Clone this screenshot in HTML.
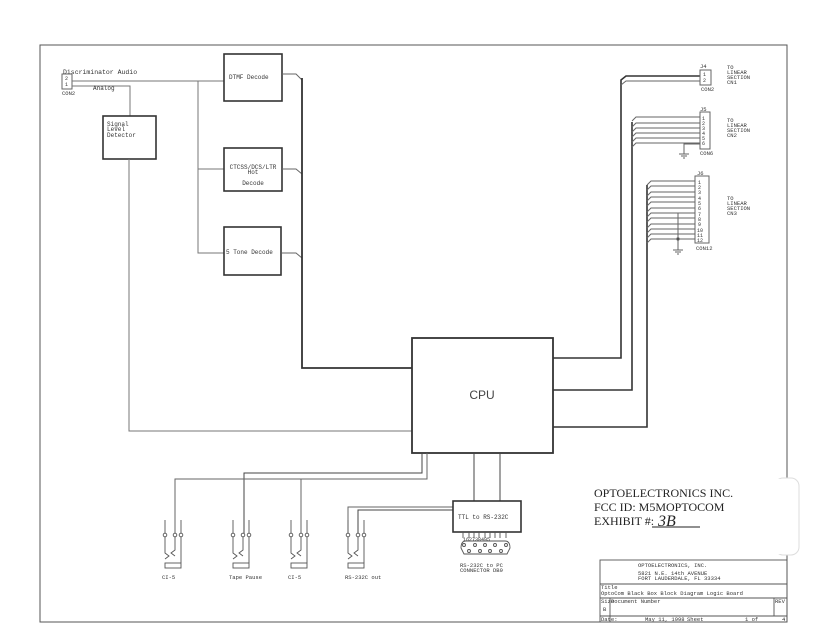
<!DOCTYPE html>
<html><head><meta charset="utf-8"><style>
html,body{margin:0;padding:0;background:#fff}
svg{display:block}
text{font-family:"Liberation Mono",monospace;fill:#333}
text.serif{font-family:"Liberation Serif",serif;fill:#222}
text.sans{font-family:"Liberation Sans",sans-serif;fill:#444}
</style></head><body>
<svg width="823" height="636" viewBox="0 0 823 636" xmlns="http://www.w3.org/2000/svg">
<defs>
<g id="jk" fill="#fff" stroke="#555" stroke-width="0.9">
<line x1="0" y1="520" x2="0" y2="533"/><line x1="16" y1="520" x2="16" y2="533"/>
<circle cx="0" cy="535" r="1.8"/><circle cx="10" cy="535" r="1.8"/><circle cx="16" cy="535" r="1.8"/>
<polyline points="0,537 0,553 4,556 0,559" fill="none"/>
<polyline points="10,537 10,550 6,553 10,556" fill="none"/>
<line x1="16" y1="537" x2="16" y2="563"/>
<rect x="0" y="563" width="16" height="5"/>
</g>
</defs>
<rect width="823" height="636" fill="#fff"/>
<g fill="none" stroke="#555" stroke-width="1">
<rect x="40" y="45" width="747" height="577"/>
</g>
<!-- FCC white patch -->
<rect x="775" y="478" width="24" height="77" rx="8" fill="#fff" stroke="#ddd"/>
<rect x="760" y="479" width="30" height="75" fill="#fff"/>

<g fill="none" stroke="#333" stroke-width="1">
<rect x="62" y="74" width="10" height="15" stroke="#666"/>
<polyline points="72,81 224,81" stroke="#777"/>
<polyline points="72,86 130,86 130,116" stroke="#777"/>
<polyline points="198,81 198,253 224,253" stroke="#777"/>
<line x1="198" y1="169" x2="224" y2="169" stroke="#777"/>
<rect x="224" y="54" width="58" height="47" stroke-width="1.6"/>
<rect x="224" y="148" width="58" height="43" stroke-width="1.6"/>
<rect x="224" y="227" width="57" height="48" stroke-width="1.6"/>
<rect x="103" y="116" width="53" height="43" stroke-width="1.6"/>
<polyline points="282,74 296,74 302,80" stroke="#666"/>
<polyline points="282,169 296,169 302,174" stroke="#666"/>
<polyline points="282,253 296,253 302,258" stroke="#666"/>
<polyline points="302,78 302,368 412,368" stroke-width="1.8"/>
<polyline points="129,159 129,431 412,431" stroke="#777"/>
<rect x="412" y="338" width="141" height="115" stroke-width="1.8"/>
<polyline points="553,358 621,358 621,80 626,76 700,76" stroke-width="1.6"/>
<polyline points="621,85 626,81 700,81" stroke="#666"/>
<polyline points="553,390 632,390 632,122" stroke-width="1.6"/>
<polyline points="553,427 647,427 647,185" stroke-width="1.6"/>
</g>
<g fill="none" stroke="#666" stroke-width="1">
<rect x="700" y="70" width="11" height="15"/>
<rect x="700" y="112" width="10" height="37"/>
<path d="M632,121 l4,-4 h64 M632,127 l4,-4 h64 M632,132 l4,-4 h64 M632,137 l4,-4 h64 M632,142 l4,-4 h64 M632,147 l4,-4 h64"/>
<path d="M700,144 h-16 v10 M679,154 h10 M681,156 h6 M683,158 h2"/>
<rect x="695" y="176" width="14" height="67"/>
<path d="M647,185 l4,-4 h44 M647,190 l4,-4 h44 M647,196 l4,-4 h44 M647,201 l4,-4 h44 M647,206 l4,-4 h44 M647,212 l4,-4 h44 M647,217 l4,-4 h44 M647,222 l4,-4 h44 M647,228 l4,-4 h44 M647,233 l4,-4 h44 M647,238 l4,-4 h44 M647,243 l4,-4 h44"/>
<path d="M695,213 h-17 v37 M673,250 h10 M675,252 h6 M677,254 h2"/>
<circle cx="678" cy="239" r="1.2" fill="#333"/>
<polyline points="422,453 422,473 244,473 244,535" stroke="#444"/>
<polyline points="427,453 427,479 175,479 175,535"/>
<line x1="301" y1="479" x2="301" y2="535"/>
<line x1="474" y1="453" x2="474" y2="501" stroke="#444"/>
<line x1="500" y1="453" x2="500" y2="501" stroke="#444"/>
<polyline points="453,507 348,507 348,535"/>
<polyline points="453,510 358,510 358,535" stroke="#444"/>
</g>
<rect x="453" y="501" width="68" height="31" fill="none" stroke="#333" stroke-width="1.6"/>
<use href="#jk" x="165"/><use href="#jk" x="233"/><use href="#jk" x="291"/><use href="#jk" x="348"/>
<g fill="#fff" stroke="#555" stroke-width="0.9">
<path d="M463,532 v6 M469,532 v6 M474,532 v6 M479,532 v6 M485,532 v6 M490,532 v6 M495,532 v6 M500,532 v6 M506,532 v6" fill="none"/>
<path d="M461,548 q0,-7 5,-7 h39 q5,0 5,7 l-3,6 h-43 z" fill="none"/>
<circle cx="464" cy="545" r="1.5"/><circle cx="475" cy="545" r="1.5"/><circle cx="485" cy="545" r="1.5"/><circle cx="495" cy="545" r="1.5"/><circle cx="506" cy="545" r="1.5"/>
<circle cx="469" cy="551" r="1.5"/><circle cx="480" cy="551" r="1.5"/><circle cx="490" cy="551" r="1.5"/><circle cx="501" cy="551" r="1.5"/>
</g>
<g font-size="6.5">
<text x="63" y="74">Discriminator Audio</text>
<text x="65" y="80" font-size="5">2</text><text x="65" y="86" font-size="5">1</text>
<text x="62" y="95" font-size="5.5">CON2</text>
<text x="93" y="90" font-size="6">Analog</text>
<text x="107" y="126" font-size="6">Signal</text>
<text x="107" y="131" font-size="6">Level</text>
<text x="107" y="137" font-size="6">Detector</text>
<text x="229" y="79" font-size="6">DTMF Decode</text>
<text x="253" y="169" font-size="6" text-anchor="middle">CTCSS/DCS/LTR</text>
<text x="253" y="174" font-size="6" text-anchor="middle">Hot</text>
<text x="253" y="185" font-size="6" text-anchor="middle">Decode</text>
<text x="226" y="254" font-size="6">5 Tone Decode</text>
<text class="sans" x="482" y="399" font-size="12" text-anchor="middle">CPU</text>
<text x="458" y="519" font-size="6">TTL to RS-232C</text>
<text x="463" y="541" font-size="5">162738495</text>
<text x="460" y="567" font-size="5.5">RS-232C to PC</text>
<text x="460" y="572" font-size="5.5">CONNECTOR DB9</text>
<text x="162" y="579" font-size="5.5">CI-5</text>
<text x="229" y="579" font-size="5.5">Tape Pause</text>
<text x="288" y="579" font-size="5.5">CI-5</text>
<text x="345" y="579" font-size="5.5">RS-232C out</text>
<text x="700" y="68" font-size="5.5">J4</text>
<text x="703" y="76" font-size="5">1</text><text x="703" y="82" font-size="5">2</text>
<text x="701" y="91" font-size="5.5">CON2</text>
<text x="700" y="111" font-size="5.5">J5</text>
<g font-size="5"><text x="702" y="120">1</text><text x="702" y="125">2</text><text x="702" y="130">3</text><text x="702" y="135">4</text><text x="702" y="140">5</text><text x="702" y="145">6</text></g>
<text x="700" y="155" font-size="5.5">CON6</text>
<text x="697" y="175" font-size="5.5">J6</text>
<g font-size="5"><text x="698" y="184">1</text><text x="698" y="189">2</text><text x="698" y="194">3</text><text x="698" y="200">4</text><text x="698" y="205">5</text><text x="698" y="210">6</text><text x="698" y="216">7</text><text x="698" y="221">8</text><text x="698" y="226">9</text><text x="697" y="232">10</text><text x="697" y="237">11</text><text x="697" y="242">12</text></g>
<text x="696" y="250" font-size="5.5">CON12</text>
<g font-size="5.5">
<text x="727" y="69">TO</text><text x="727" y="74">LINEAR</text><text x="727" y="79">SECTION</text><text x="727" y="84">CN1</text>
<text x="727" y="122">TO</text><text x="727" y="127">LINEAR</text><text x="727" y="132">SECTION</text><text x="727" y="137">CN2</text>
<text x="727" y="200">TO</text><text x="727" y="205">LINEAR</text><text x="727" y="210">SECTION</text><text x="727" y="215">CN3</text>
</g>
</g>
<text class="serif" x="594" y="497" font-size="12">OPTOELECTRONICS INC.</text>
<text class="serif" x="594" y="511" font-size="12">FCC ID:  M5MOPTOCOM</text>
<text class="serif" x="594" y="525" font-size="12">EXHIBIT #:</text>
<line x1="652" y1="527" x2="700" y2="527" stroke="#222"/>
<text class="serif" x="658" y="526" font-size="16" font-style="italic">3B</text>
<g fill="none" stroke="#555" stroke-width="0.9">
<rect x="600" y="560" width="187" height="62"/>
<line x1="600" y1="584" x2="787" y2="584"/>
<line x1="600" y1="598" x2="787" y2="598"/>
<line x1="600" y1="616" x2="787" y2="616"/>
<line x1="610" y1="598" x2="610" y2="622"/>
<line x1="774" y1="598" x2="774" y2="616"/>
</g>
<g font-size="5.5">
<text x="638" y="567">OPTOELECTRONICS, INC.</text>
<text x="638" y="575">5821 N.E. 14th AVENUE</text>
<text x="638" y="580">FORT LAUDERDALE, FL  33334</text>
<text x="601" y="589">Title</text>
<text x="601" y="595">OptoCom Black Box Block Diagram Logic Board</text>
<text x="601" y="603">Size</text><text x="611" y="603">Document Number</text><text x="775" y="603">REV</text>
<text x="603" y="611">B</text>
<text x="601" y="621">Date:</text><text x="645" y="621">May 11, 1998</text><text x="687" y="621">Sheet</text><text x="745" y="621">1 of</text><text x="782" y="621">4</text>
</g>
</svg>
</body></html>
